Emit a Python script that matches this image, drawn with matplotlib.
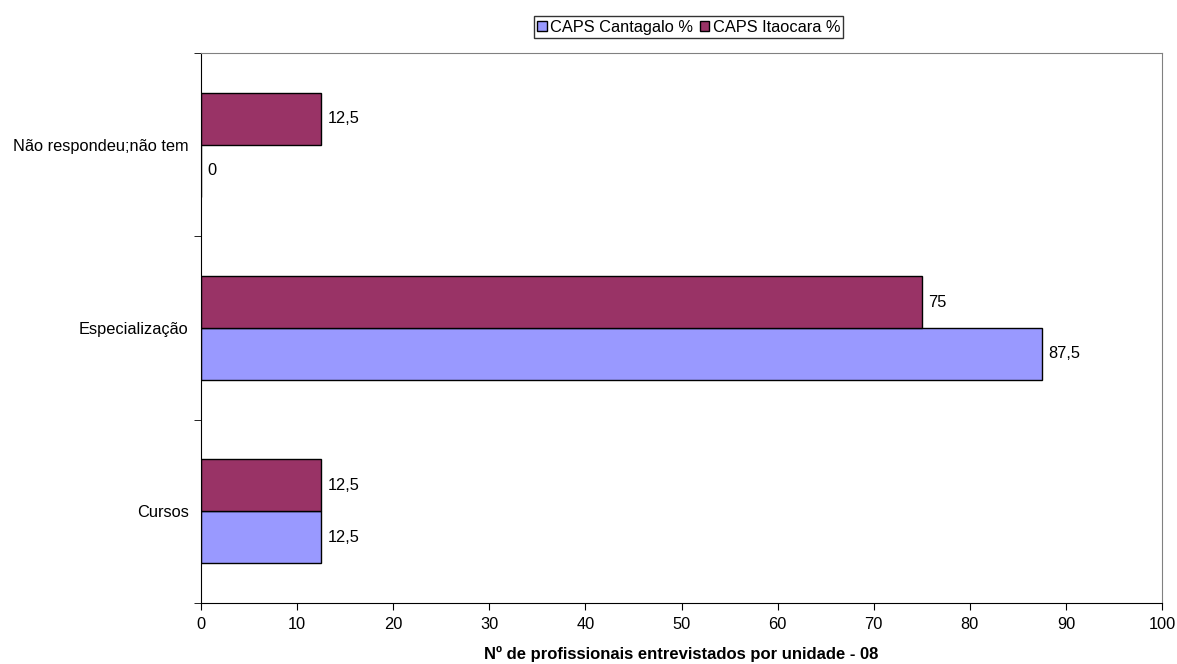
import numpy as np
import matplotlib.pyplot as plt

plt.rcParams['font.family'] = ['Liberation Sans', 'DejaVu Sans']

categorias = ["Cursos", "Especialização", "Não respondeu;não tem"]
cantagalo = [12.5, 87.5, 0]
itaocara = [12.5, 75, 12.5]
series = ["CAPS Cantagalo %", "CAPS Itaocara %"]

cor_cantagalo = "#9999FF"
cor_itaocara = "#993366"
fs = 11.8


def rotulo(v):
    # valores com virgula decimal
    txt = ("%g" % v).replace(".", ",")
    return txt


fig = plt.figure(figsize=(11.77, 6.64), dpi=100)
ax = fig.add_axes([0.1708, 0.0919, 0.8165, 0.8283])

y_pos = np.arange(len(categorias))
h = 0.283
b1 = ax.barh(y_pos - h / 2, cantagalo, height=h, color=cor_cantagalo,
             edgecolor="black", linewidth=1, label=series[0])
b2 = ax.barh(y_pos + h / 2, itaocara, height=h, color=cor_itaocara,
             edgecolor="black", linewidth=1, label=series[1])

for barras, valores in ((b1, cantagalo), (b2, itaocara)):
    for bar, v in zip(barras, valores):
        ax.annotate(rotulo(v), (v, bar.get_y() + bar.get_height() / 2),
                    xytext=(4.5, 0), textcoords="offset points",
                    ha="left", va="center", fontsize=fs)

ax.set_xlim(0, 100)
ax.set_ylim(-0.5, 2.5)
ax.set_xticks(np.arange(0, 101, 10))
ax.set_yticks(y_pos)
ax.set_yticklabels(categorias, fontsize=fs)
ax.set_yticks(np.arange(-0.5, 2.6, 1), minor=True)
ax.tick_params(axis="y", which="major", length=0, pad=9)
ax.tick_params(axis="y", which="minor", length=5, direction="out", color="black")
ax.tick_params(axis="x", length=5, direction="out", labelsize=fs, pad=5)

for lado in ("top", "right"):
    ax.spines[lado].set_color("#808080")
for lado in ("left", "bottom"):
    ax.spines[lado].set_color("black")

ax.set_xlabel("Nº de profissionais entrevistados por unidade - 08",
              fontsize=12, fontweight="bold", labelpad=10)

leg = fig.legend(handles=[b1, b2], loc="center", bbox_to_anchor=(0.585, 0.959),
                 ncol=2, fontsize=fs, frameon=True, fancybox=False,
                 handlelength=0.6, handleheight=0.6, handletextpad=0.2,
                 columnspacing=0.4, borderpad=0.2, borderaxespad=0)
leg.get_frame().set_edgecolor("black")
leg.get_frame().set_linewidth(1)

fig.savefig("out.png", dpi=100)
